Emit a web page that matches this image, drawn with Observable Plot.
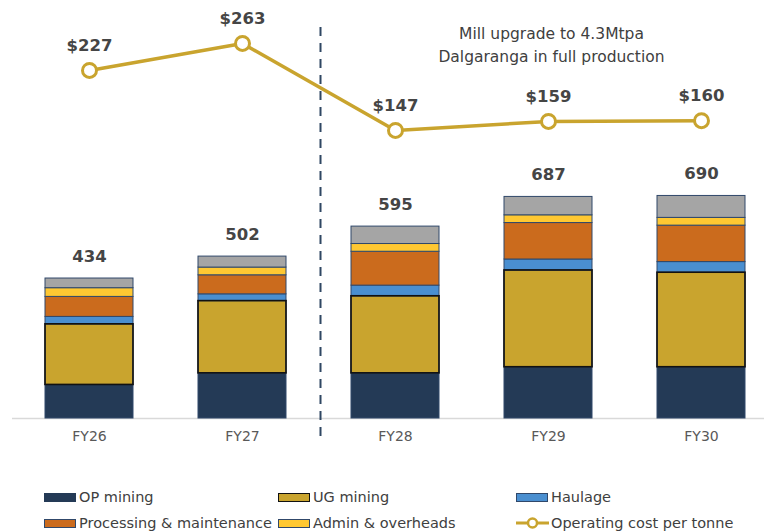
<!DOCTYPE html>
<html>
<head>
<meta charset="utf-8">
<script src="https://cdn.jsdelivr.net/npm/d3@7"></script>
<script src="https://cdn.jsdelivr.net/npm/@observablehq/plot@0.6"></script>
<style>
  html, body { margin: 0; padding: 0; background: #fff; }
  #wrap { position: relative; width: 764px; height: 532px; overflow: hidden; font-family: "DejaVu Sans", sans-serif; }
  #bars, #line { position: absolute; left: 0; top: 0; }
  #line { pointer-events: none; }
  .li { position: absolute; display: flex; align-items: center; font-size: 14.5px; line-height: 14px; height: 14px; color: #404040; white-space: nowrap; }
  .sw { width: 32px; height: 9px; margin-right: 3px; box-sizing: border-box; }
</style>
</head>
<body>
<div id="wrap">
  <div id="bars"></div>
  <div id="line"></div>
  <div id="legend"></div>
</div>
<script>
const years = ["FY26", "FY27", "FY28", "FY29", "FY30"];
const opMining   = [104, 140, 140, 159, 159];
const ugMining   = [188, 224, 239, 300, 293];
const haulage    = [23, 21, 33, 34, 33];
const processing = [62, 59, 105, 113, 113];
const admin      = [27, 24, 24, 24, 24];
const other      = [30, 34, 54, 57, 68];
const totals     = [434, 502, 595, 687, 690];
const costPerTonne = [227, 263, 147, 159, 160];

const seriesNames  = ["OP mining", "UG mining", "Haulage", "Processing & maintenance", "Admin & overheads", "Other"];
const seriesColors = ["#243a56", "#c9a42e", "#4a8fd0", "#cb6b1d", "#ffc832", "#a5a5a5"];
const seriesValues = [opMining, ugMining, haulage, processing, admin, other];
const lineColor = "#c9a42e";
const annotation = "Mill upgrade to 4.3Mtpa\nDalgaranga in full production";
const font = "'DejaVu Sans', sans-serif";

const rows = years.flatMap((yr, i) =>
  seriesValues.map((vals, j) => ({year: yr, series: seriesNames[j], value: vals[i], color: seriesColors[j]})));
const totalRows = years.map((yr, i) => ({year: yr, total: totals[i]}));
const lineRows = years.map((yr, i) => ({year: yr, cost: costPerTonne[i]}));

const xOpts = {type: "band", domain: years, paddingInner: 0.425, paddingOuter: 0.1};

const bars = Plot.plot({
  width: 764, height: 450,
  marginLeft: 29, marginRight: 4, marginTop: 0, marginBottom: 32,
  x: {...xOpts, tickSize: 0, tickPadding: 13, label: null},
  y: {domain: [0, 1296], axis: null},
  color: {type: "identity"},
  style: {fontFamily: font, fontSize: "14px", color: "#595959", background: "transparent"},
  marks: [
    Plot.ruleY([0], {stroke: "#d9d9d9", strokeWidth: 1.5, insetLeft: -17, insetRight: -4}),
    Plot.barY(rows, {x: "year", y: "value", fill: "color", stroke: "#30486a", strokeWidth: 1}),
    Plot.barY(rows, {x: "year", y: "value", fill: "none", stroke: "#111", strokeWidth: 1.6,
      strokeOpacity: d => d.series === "UG mining" ? 1 : 0}),
    Plot.text(totalRows, {x: "year", y: "total", text: d => String(d.total), dy: -22,
      fontSize: 16.5, fontWeight: "bold", fill: "#454545"})
  ]
});
document.getElementById("bars").appendChild(bars);

const line = Plot.plot({
  width: 764, height: 450,
  marginLeft: 29, marginRight: 4, marginTop: 0, marginBottom: 32,
  x: {...xOpts, axis: null},
  y: {domain: [-237, 320.3], axis: null},
  style: {fontFamily: font, background: "transparent"},
  marks: [
    Plot.ruleX(["FY28"], {x: d => d, dx: -75, stroke: "#2f4763", strokeWidth: 2,
      strokeDasharray: "9,7", insetTop: 27, insetBottom: -19}),
    Plot.lineY(lineRows, {x: "year", y: "cost", stroke: lineColor, strokeWidth: 3.5}),
    Plot.dot(lineRows, {x: "year", y: "cost", r: 7, fill: "white", stroke: lineColor, strokeWidth: 3}),
    Plot.text(lineRows, {x: "year", y: "cost", text: d => "$" + d.cost, dy: -25,
      fontSize: 16.5, fontWeight: "bold", fill: "#454545"}),
    Plot.text([annotation], {x: () => "FY29", frameAnchor: "top", dx: 3, dy: 43, lineAnchor: "middle",
      lineHeight: 1.45, fontSize: 15.5, fill: "#404040"})
  ]
});
document.getElementById("line").appendChild(line);

// legend
const legendItems = [
  {label: "OP mining", color: seriesColors[0], border: "#243a56", left: 44, top: 490},
  {label: "UG mining", color: seriesColors[1], border: "#111", left: 278, top: 490},
  {label: "Haulage", color: seriesColors[2], border: "#30486a", left: 516, top: 490},
  {label: "Processing & maintenance", color: seriesColors[3], border: "#30486a", left: 44, top: 516},
  {label: "Admin & overheads", color: seriesColors[4], border: "#30486a", left: 278, top: 516},
  {label: "Operating cost per tonne", line: true, left: 516, top: 516}
];
const legend = document.getElementById("legend");
for (const it of legendItems) {
  const el = document.createElement("div");
  el.className = "li";
  el.style.left = it.left + "px";
  el.style.top = it.top + "px";
  if (it.line) {
    el.innerHTML = `<svg width="33" height="14" style="margin-right:2px"><line x1="0" x2="33" y1="7" y2="7" stroke="${lineColor}" stroke-width="3"/><circle cx="16.5" cy="7" r="4.5" fill="white" stroke="${lineColor}" stroke-width="2.5"/></svg>`;
  } else {
    el.innerHTML = `<div class="sw" style="background:${it.color};border:1.5px solid ${it.border}"></div>`;
  }
  const t = document.createElement("span");
  t.textContent = it.label;
  el.appendChild(t);
  legend.appendChild(el);
}
</script>
</body>
</html>
